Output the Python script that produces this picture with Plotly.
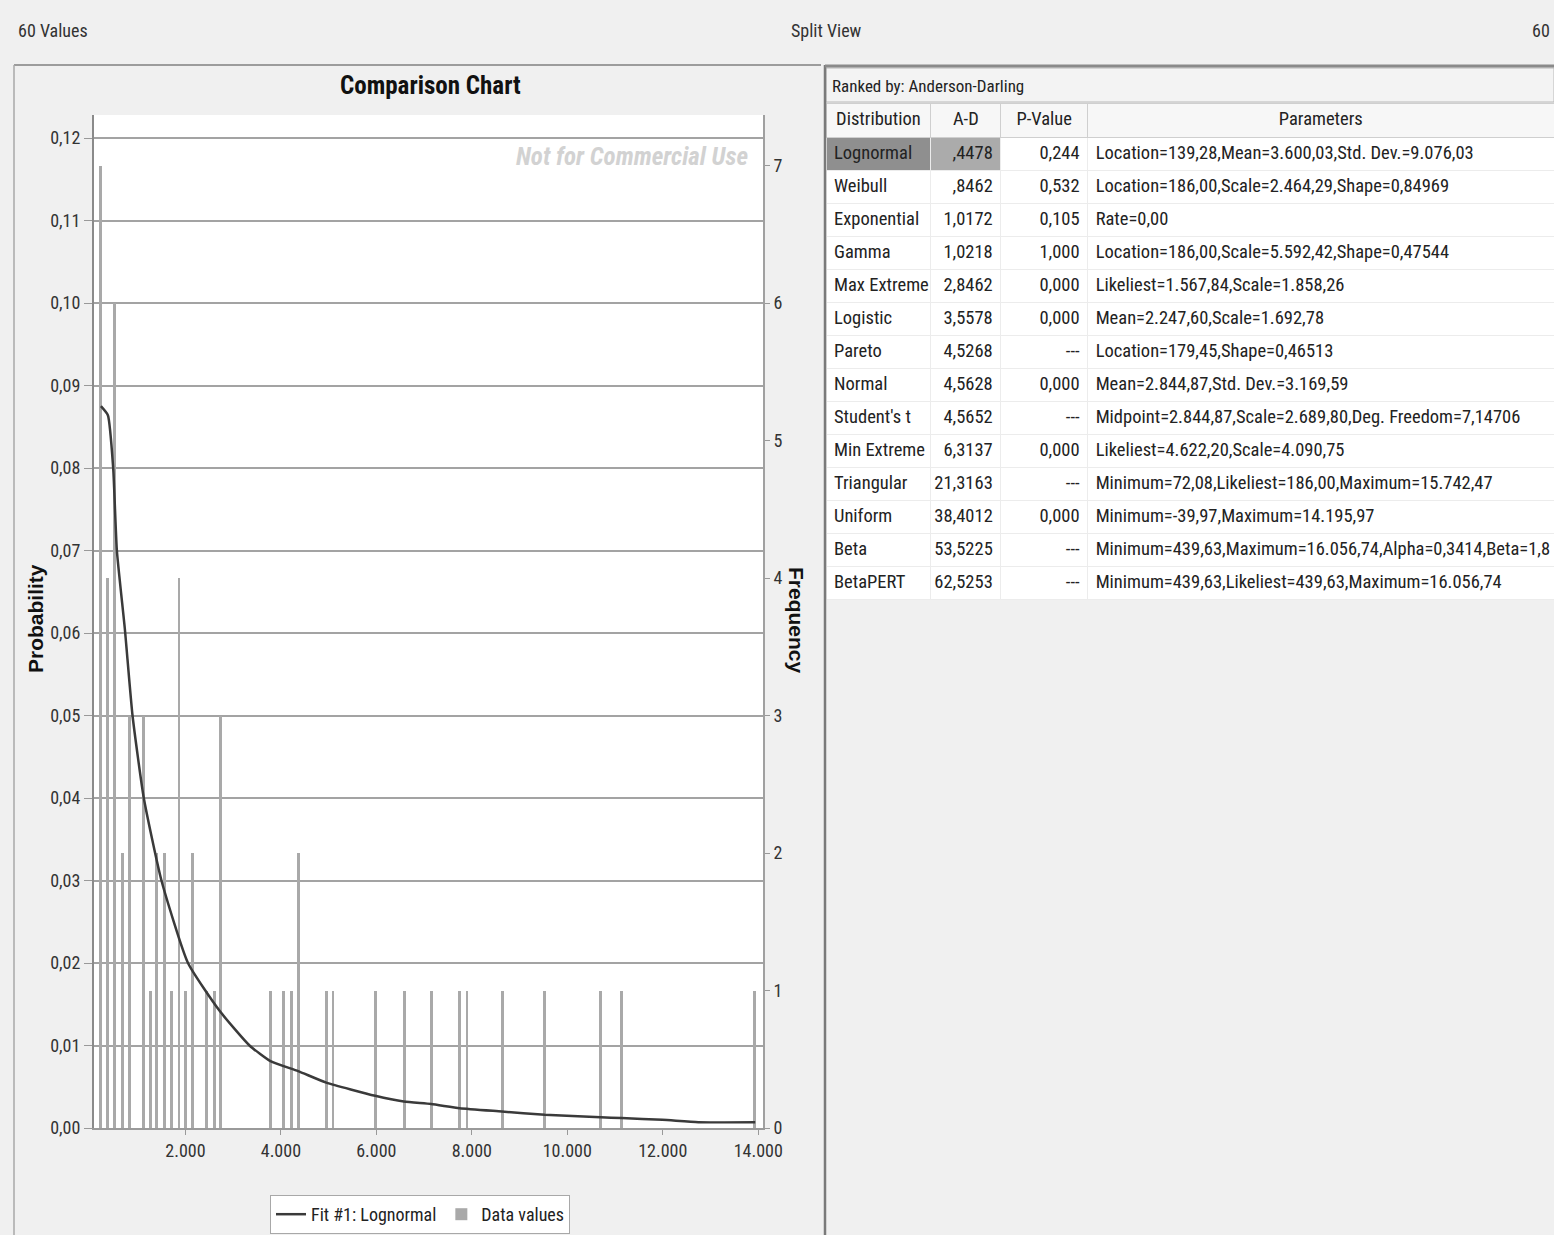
import plotly.graph_objects as go

W, H = 1554, 1235

# ---------------- data ----------------
bin_centers = [230, 376, 522, 690, 836, 1122, 1260, 1400, 1561, 1713, 1866, 2000, 2146,
               2438, 2606, 2743, 3782, 4060, 4214, 4361, 4952, 5092, 5982, 6582, 7152,
               7746, 7898, 8636, 9522, 10698, 11130, 13930]
frequency = [7, 4, 6, 2, 3, 3, 1, 2, 2, 1, 4, 1, 2, 1, 1, 3, 1, 1, 1, 2, 1, 1, 1, 1, 1,
             1, 1, 1, 1, 1, 1, 1]

fit_x = [230, 376, 487, 564, 731, 892, 1128, 1498, 2054, 2716, 3343, 3782, 4361, 4952,
         5976, 6575, 7146, 7746, 8629, 9528, 10698, 11137, 11993, 12746, 13937]
fit_prob = [0.0875, 0.0864, 0.080, 0.070, 0.0605, 0.050, 0.040, 0.030, 0.020, 0.0142,
            0.010, 0.0081, 0.0069, 0.0055, 0.0039, 0.0032, 0.0029, 0.0024, 0.0020,
            0.0016, 0.0013, 0.0012, 0.0010, 0.0007, 0.0007]

x_ticks = [2000, 4000, 6000, 8000, 10000, 12000, 14000]
prob_ticks = [0.00, 0.01, 0.02, 0.03, 0.04, 0.05, 0.06, 0.07, 0.08, 0.09, 0.10, 0.11, 0.12]
freq_ticks = [0, 1, 2, 3, 4, 5, 6, 7]

distributions = ["Lognormal", "Weibull", "Exponential", "Gamma", "Max\u00a0Extreme", "Logistic",
                 "Pareto", "Normal", "Student's\u00a0t", "Min\u00a0Extreme", "Triangular",
                 "Uniform", "Beta", "BetaPERT"]
ad_values = [",4478", ",8462", "1,0172", "1,0218", "2,8462", "3,5578", "4,5268", "4,5628",
             "4,5652", "6,3137", "21,3163", "38,4012", "53,5225", "62,5253"]
p_values = ["0,244", "0,532", "0,105", "1,000", "0,000", "0,000", "---", "0,000", "---",
            "0,000", "---", "0,000", "---", "---"]
parameters = [
    "Location=139,28,Mean=3.600,03,Std. Dev.=9.076,03",
    "Location=186,00,Scale=2.464,29,Shape=0,84969",
    "Rate=0,00",
    "Location=186,00,Scale=5.592,42,Shape=0,47544",
    "Likeliest=1.567,84,Scale=1.858,26",
    "Mean=2.247,60,Scale=1.692,78",
    "Location=179,45,Shape=0,46513",
    "Mean=2.844,87,Std. Dev.=3.169,59",
    "Midpoint=2.844,87,Scale=2.689,80,Deg. Freedom=7,14706",
    "Likeliest=4.622,20,Scale=4.090,75",
    "Minimum=72,08,Likeliest=186,00,Maximum=15.742,47",
    "Minimum=-39,97,Maximum=14.195,97",
    "Minimum=439,63,Maximum=16.056,74,Alpha=0,3414,Beta=1,8",
    "Minimum=439,63,Likeliest=439,63,Maximum=16.056,74",
]
table_header = ["Distribution", "A-D", "P-Value", "Parameters"]

# ---------------- styling helpers ----------------
NARROW = "Liberation Sans Narrow, Arial Narrow, Roboto Condensed, DejaVu Sans Condensed, sans-serif"
SANS = "Liberation Sans, Arial, sans-serif"
BG = "#f0f0f0"


def px(x):
    return x / W


def py(y):
    return 1 - y / H


PLOT_L, PLOT_R, PLOT_T, PLOT_B = 94, 763, 115, 1128
prob_top = (PLOT_B - PLOT_T) / 8250.0      # 0.01 per 82.5 px
freq_top = prob_top * 60

fig = go.Figure()

fig.add_trace(go.Scatter(
    x=fit_x, y=fit_prob, mode="lines", name="Fit #1: Lognormal",
    line=dict(color="#3a3a3a", width=2.5, shape="spline", smoothing=0.5),
    yaxis="y2", xaxis="x",
))
fig.add_trace(go.Bar(
    x=bin_centers, y=frequency, width=60, name="Data values",
    marker=dict(color="#a9a9a9", line=dict(width=0)), yaxis="y", xaxis="x",
))

# table
n = len(distributions)
fill_dist = ["#8f8f8f"] + ["white"] * (n - 1)
fill_ad = ["#ababab"] + ["white"] * (n - 1)
fig.add_trace(go.Table(
    domain=dict(x=[px(826), 1.0], y=[py(610), py(103)]),
    columnwidth=[105, 70, 87, 467],
    header=dict(values=table_header, align="center", height=34,
                fill=dict(color="#f7f7f7"), line=dict(color="#cfcfcf", width=1),
                font=dict(family=NARROW, size=18.5, color="#222")),
    cells=dict(values=[distributions, ad_values, p_values, parameters],
               align=["left", "right", "right", "left"], height=33,
               fill=dict(color=[fill_dist, fill_ad, ["white"] * n, ["white"] * n]),
               line=dict(color="#ececec", width=1),
               font=dict(family=NARROW, size=18.5, color="#222")),
))

tickfont = dict(family=NARROW, size=18, color="#333")

fig.update_layout(
    width=W, height=H, autosize=False,
    margin=dict(l=0, r=0, t=0, b=0, pad=0, autoexpand=False),
    paper_bgcolor=BG, plot_bgcolor="white",
    separators=",.",
    bargap=0,
    showlegend=True,
    legend=dict(x=px(270), y=py(1195), xanchor="left", yanchor="top",
                orientation="h", bgcolor="white", bordercolor="#a8a8a8", borderwidth=1,
                font=dict(family=NARROW, size=18, color="#222"), itemwidth=30,
                traceorder="normal"),
    xaxis=dict(domain=[px(PLOT_L), px(PLOT_R)], range=[85, 14100], tickvals=x_ticks,
               tickformat=",.0f", ticks="outside", ticklen=5, tickcolor="#999",
               showgrid=False, zeroline=False, showline=True, linecolor="#9a9a9a",
               linewidth=2, tickfont=tickfont, anchor="y", automargin=False),
    yaxis=dict(domain=[py(PLOT_B), py(PLOT_T)], range=[0, freq_top], tickvals=freq_ticks,
               side="right", showgrid=False, zeroline=False, showline=True,
               linecolor="#a0a0a0", linewidth=2, ticks="outside", ticklen=5,
               tickcolor="#999", tickfont=tickfont, anchor="x", automargin=False),
    yaxis2=dict(range=[0, prob_top], tickvals=prob_ticks, tickformat=".2f",
                overlaying="y", side="left", anchor="x", showgrid=True,
                gridcolor="#a3a3a3", gridwidth=2, zeroline=False, showline=True,
                linecolor="#8a8a8a", linewidth=2, ticks="outside", ticklen=8,
                tickcolor="#999", tickfont=tickfont, automargin=False),
)

shapes = [
    # left panel borders
    dict(type="line", xref="paper", yref="paper", x0=px(14), x1=px(821), y0=py(65), y1=py(65),
         line=dict(color="#9c9c9c", width=2)),
    dict(type="line", xref="paper", yref="paper", x0=px(14), x1=px(14), y0=py(65), y1=0,
         line=dict(color="#a8a8a8", width=1.5)),
    # right panel borders
    dict(type="line", xref="paper", yref="paper", x0=px(825), x1=px(825), y0=py(65), y1=0,
         line=dict(color="#7a7a7a", width=2.5)),
    dict(type="line", xref="paper", yref="paper", x0=px(825), x1=1, y0=py(66), y1=py(66),
         line=dict(color="#8a8a8a", width=3)),
    dict(type="rect", xref="paper", yref="paper", x0=px(826), x1=1, y0=py(102), y1=py(68),
         fillcolor="#f3f3f3", line=dict(color="#b8b8b8", width=1), layer="below"),
]
fig.update_layout(shapes=shapes)

ann = [
    dict(text="60 Values", x=px(16), y=py(30), xanchor="left", yanchor="middle",
         font=dict(family=NARROW, size=18, color="#333")),
    dict(text="Split View", x=px(789), y=py(30), xanchor="left", yanchor="middle",
         font=dict(family=NARROW, size=18, color="#333")),
    dict(text="60", x=px(1552), y=py(30), xanchor="right", yanchor="middle",
         font=dict(family=NARROW, size=18, color="#333")),
    dict(text="<b>Comparison Chart</b>", x=px(430), y=py(86), xanchor="center", yanchor="middle",
         font=dict(family=NARROW, size=25, color="#111")),
    dict(text="<b><i>Not for Commercial Use</i></b>", x=px(750), y=py(157), xanchor="right",
         yanchor="middle", font=dict(family=NARROW, size=25, color="#d2d2d2")),
    dict(text="<b>Probability</b>", x=px(35), y=py(619), xanchor="center", yanchor="middle",
         textangle=-90, font=dict(family=SANS, size=21, color="#111")),
    dict(text="<b>Frequency</b>", x=px(797), y=py(620), xanchor="center", yanchor="middle",
         textangle=90, font=dict(family=SANS, size=21, color="#111")),
    dict(text="Ranked by: Anderson-Darling", x=px(830), y=py(86), xanchor="left",
         yanchor="middle", font=dict(family=NARROW, size=17, color="#222")),
]
for a in ann:
    a.update(xref="paper", yref="paper", showarrow=False)
fig.update_layout(annotations=ann)

post = (
    "document.documentElement.style.margin='0';"
    "document.documentElement.style.overflow='hidden';"
    "document.body.style.margin='0';"
    "document.body.style.overflow='hidden';"
)
fig.write_html("out.html",
               config={"responsive": False, "displayModeBar": False},
               post_script=post)
